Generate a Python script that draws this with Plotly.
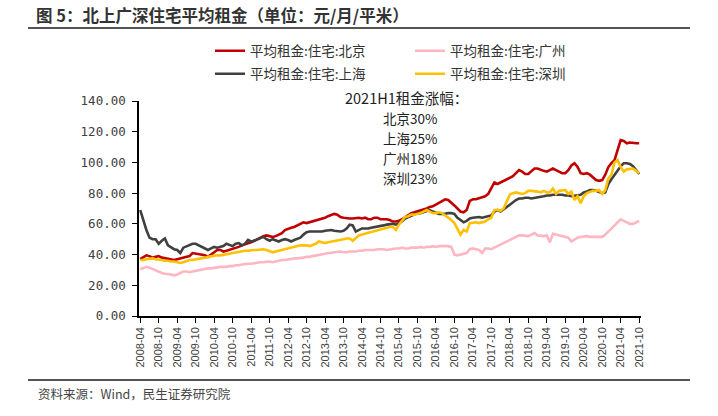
import plotly.graph_objects as go
import pandas as pd

# Monthly categories 2008-04 .. 2021-10
months = [d.strftime("%Y-%m") for d in pd.date_range("2008-04-01", "2021-10-01", freq="MS")]
tick_labels = months[::6]

beijing = [
    37, 38, 39.5, 39, 38, 38.5, 39, 38, 37.5,                          # 2008
    37, 36.5, 36.5, 37, 37.5, 38, 38.5, 39, 41, 40.5, 40, 39.5,        # 2009
    39.5, 38.5, 40, 42, 43, 43, 42, 42.5, 43, 43.5, 44, 45,            # 2010
    46, 46.5, 47, 48, 49, 50, 51.5, 52, 52.5, 52, 51.5, 52,            # 2011
    53, 54, 56, 57, 57.5, 58, 59, 60, 61, 60.5, 61, 61.5,              # 2012
    62, 62.5, 63, 64, 65, 66, 66.5, 66, 64.5, 64, 63.5, 63.5,          # 2013
    63.5, 64, 64, 63.5, 64, 63, 63, 64, 64, 63, 63, 63,                # 2014
    62.5, 61.5, 61.5, 62, 63, 64.5, 66, 67, 67.5, 68, 68.5, 69.5,      # 2015
    70, 71, 71.5, 72.5, 73.5, 75, 76, 75.5, 74, 72, 70, 68,            # 2016
    67.5, 69, 75, 76, 76, 76.5, 77, 78, 79.5, 83, 87, 86,              # 2017
    87, 88, 89, 90, 91, 93, 95, 94, 92.5, 92.5, 94, 96,                # 2018
    96, 95, 94.5, 94, 95, 96, 95, 94, 93, 93, 95, 98,                  # 2019
    99.5, 97, 93, 92.5, 93, 92, 90, 88.5, 88, 88.5, 92, 97,            # 2020
    99.5, 101.5, 108, 114.5, 114, 112.5, 113, 112.5, 112.5, 112.5,     # 2021
]

guangzhou = [
    30.5, 31, 32, 31.5, 30.5, 29.5, 28.5, 28, 27.5,
    27, 27, 26.5, 27, 28, 29, 29, 28.5, 29, 29.5, 30, 30.5,
    30.5, 31, 31, 31.5, 31.5, 32, 32, 32, 32.5, 32.5, 33, 33,
    33.5, 34, 34, 34, 34.5, 34.5, 35, 35, 35.5, 35.5, 35, 35.5,
    36.5, 36.5, 36.5, 37, 37, 37.5, 37.5, 38, 38, 38.5, 38.5, 39,
    39.5, 40, 40, 40.5, 41, 41, 41.5, 42, 42, 41.5, 41.5, 42,
    42, 42, 42.5, 42.5, 43, 43, 43, 43, 43.5, 43.5, 43.5, 43,
    43.5, 44, 44, 44, 44.5, 44, 44, 44.5, 44.5, 44.5, 45, 44.5,
    45, 45, 45.5, 45, 45.5, 45.5, 45.5, 45.5, 45, 40, 39.5, 40,
    40.5, 41, 43.5, 44, 43.5, 43, 41, 44, 44, 43.5, 44.5, 45.5,
    46.5, 47.5, 48.5, 50, 51, 52, 52.5, 52.5, 52, 52, 53, 54,
    52.5, 52, 52, 52.5, 48, 53.5, 53, 52, 51.5, 51.5, 51, 48.5,
    50, 51, 51.5, 52, 52, 51.5, 51.5, 51.5, 51.5, 51.5, 53, 55,
    57, 59, 61.5, 63, 62, 61, 60, 60, 61, 62,
]

shanghai = [
    69, 62, 56, 51, 50, 50, 47, 49, 50.5,
    46, 44.5, 43.5, 43, 41, 44.5, 45.5, 46, 47, 47, 46, 45.5,
    44, 43, 44, 45, 44.5, 45, 45.5, 47, 46, 45.5, 47, 47.5,
    46, 47, 49.5, 48.5, 49, 50, 50.5, 51.5, 50, 49, 50, 49,
    48.5, 49.5, 50, 49.5, 48.5, 49.5, 50.5, 51, 53, 54.5, 55, 55,
    55, 55, 55, 55.5, 56, 56, 55.5, 55, 55, 55.5, 57, 59.5,
    59, 55, 56, 57, 57, 57, 57.5, 58, 58.5, 58.5, 59, 59.5,
    60, 60, 59.5, 60.5, 61.5, 63.5, 64.5, 65.5, 66.5, 67, 67, 67.5,
    68.5, 69, 68, 67, 66.5, 66.5, 66.5, 67, 67, 66.5, 64, 62.5,
    61, 62, 63.5, 64, 64.5, 64.5, 64, 64.5, 65, 65.5, 68, 69,
    68, 69.5, 71, 72.5, 74.5, 75.5, 76.5, 76.5, 77, 77, 76.5, 77,
    77.5, 78, 78, 78.5, 78.5, 79, 79, 79, 79, 78.5, 78.5, 78,
    78.5, 79, 79, 80.5, 81, 82, 82, 81.5, 81, 80, 80.5, 86,
    89, 92, 95, 97.5, 99.5, 99.5, 99, 97.5, 95, 92.5,
]

shenzhen = [
    36.5, 36.5, 37, 37.5, 37.5, 37, 36.5, 36.5, 36,
    36, 35.5, 35.5, 35, 34.5, 35, 36, 36.5, 36.5, 37, 37.5, 38,
    38, 38.5, 39, 39, 39.5, 39.5, 40, 40.5, 40.5, 41, 41.5, 42,
    42, 42.5, 42.5, 43, 43, 43, 43.5, 43.5, 43, 42.5, 41.5, 42,
    42.5, 43, 43.5, 44, 44.5, 45, 45.5, 46, 46, 46, 45.5, 46,
    47, 48.5, 48, 47.5, 48, 48.5, 49, 49.5, 49.5, 50, 50.5, 50.5,
    49, 51, 52.5, 53, 53.5, 54, 54.5, 55, 55.5, 56, 57, 57.5,
    58, 58, 56, 59.5, 62, 64.5, 65, 66, 66, 66.5, 67, 68,
    69, 68, 67, 67, 67.5, 67, 65.5, 64.5, 62.5, 60.5, 56.5, 53,
    56, 55, 60.5, 61, 61, 60.5, 61, 61.5, 63, 64, 69, 69,
    68.5, 70, 74.5, 79, 80, 80.5, 80, 79.5, 80, 81.5, 81.5, 81,
    81, 80.5, 81.5, 80.5, 80.5, 83, 79.5, 81.5, 82, 82, 79.5, 81,
    75.5, 78, 73.5, 78, 80, 81, 81.5, 81.5, 82, 79.5, 82, 89.5,
    92, 100, 101.5, 97, 94, 95.5, 96, 96, 94.5, 93,
]

series = [
    ("平均租金:住宅:北京", beijing, "#C00000", "legend"),
    ("平均租金:住宅:广州", guangzhou, "#FFB6C1", "legend"),
    ("平均租金:住宅:上海", shanghai, "#404040", "legend2"),
    ("平均租金:住宅:深圳", shenzhen, "#FFC000", "legend2"),
]

W, H = 718, 416
L, R, T, B = 139, 641, 101, 316          # plot area in window pixels
pw, ph = R - L, B - T

def px(x):
    return (x - L) / pw

def py(y):
    return (B - y) / ph

CJK = "Noto Sans CJK SC"

fig = go.Figure()
for name, vals, color, lg in series:
    fig.add_trace(go.Scatter(
        x=months, y=vals, name=name, mode="lines",
        line=dict(color=color, width=2.6), legend=lg,
    ))

legend_common = dict(
    orientation="h", xanchor="left", yanchor="middle",
    font=dict(family=CJK, size=13.5, color="#333333"),
    bgcolor="rgba(0,0,0,0)", entrywidth=155, entrywidthmode="pixels",
    itemwidth=30, tracegroupgap=0,
)

fig.update_layout(
    width=W, height=H,
    margin=dict(l=L, r=W - R, t=T, b=H - B),
    paper_bgcolor="white", plot_bgcolor="white",
    showlegend=True,
    legend=dict(x=px(210), y=py(51), **legend_common),
    legend2=dict(x=px(210), y=py(74), **legend_common),
    xaxis=dict(
        type="category", range=[-0.4, 162.6], automargin=False,
        tickmode="array", tickvals=tick_labels, ticktext=tick_labels,
        tickangle=-90, ticks="outside", ticklen=5, tickcolor="black",
        showline=True, linecolor="black", linewidth=1.5, showgrid=False,
        tickfont=dict(family="Liberation Sans, Arial", size=11, color="#404040"),
    ),
    yaxis=dict(
        range=[0, 140], tickvals=[0, 20, 40, 60, 80, 100, 120, 140],
        tickformat=".2f", ticks="outside", ticklen=5, tickcolor="black",
        showline=True, linecolor="black", linewidth=1.5, showgrid=False,
        zeroline=False, automargin=False, ticklabelstandoff=4,
        tickfont=dict(family="DejaVu Sans Mono", size=12.5, color="#404040"),
    ),
)

annos = [
    dict(text="<b>图 5：北上广深住宅平均租金（单位：元/月/平米）</b>", x=px(34), y=py(15),
         font=dict(family=CJK, size=16.5, color="#333333")),
    dict(text="资料来源：Wind，民生证券研究院", x=px(36), y=py(393),
         font=dict(family=CJK, size=12.5, color="#444444")),
    dict(text="2021H1租金涨幅：", x=px(343), y=py(97),
         font=dict(family=CJK, size=14.5, color="#222222")),
    dict(text="北京30%", x=px(381), y=py(118), font=dict(family=CJK, size=13.5, color="#222222")),
    dict(text="上海25%", x=px(381), y=py(138), font=dict(family=CJK, size=13.5, color="#222222")),
    dict(text="广州18%", x=px(381), y=py(158), font=dict(family=CJK, size=13.5, color="#222222")),
    dict(text="深圳23%", x=px(381), y=py(178), font=dict(family=CJK, size=13.5, color="#222222")),
]
for a in annos:
    fig.add_annotation(xref="paper", yref="paper", xanchor="left", yanchor="middle",
                       showarrow=False, **a)

for yline in (28, 380):
    fig.add_shape(type="line", xref="paper", yref="paper",
                  x0=px(28), x1=px(690), y0=py(yline), y1=py(yline),
                  line=dict(color="#555555", width=1.8))

fig.write_html("out.html",
               config={"displayModeBar": False},
               post_script="document.body.style.margin='0';document.body.style.overflow='hidden';")
